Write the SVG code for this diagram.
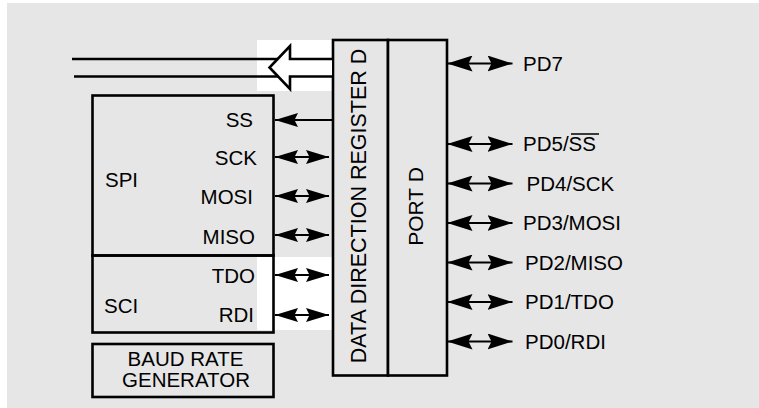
<svg xmlns="http://www.w3.org/2000/svg" width="759" height="408" viewBox="0 0 759 408">
<defs>
<style>
text{font-family:"Liberation Sans",Arial,Helvetica,sans-serif;font-size:20.5px;fill:#000}
.box{fill:#e6e6e6;stroke:#000;stroke-width:2.6}
.ln{stroke:#000;stroke-width:2.4;fill:none}
.sa{stroke:#000;stroke-width:2.2;fill:none;marker-start:url(#ahS)}
.da{stroke:#000;stroke-width:2.2;fill:none;marker-start:url(#ahS);marker-end:url(#ahS)}
.db{stroke:#000;stroke-width:2.2;fill:none;marker-start:url(#ahL);marker-end:url(#ahL)}
.end{text-anchor:end}
.mid{text-anchor:middle}
</style>
<marker id="ahS" viewBox="0 0 23 14" refX="23" refY="7" markerWidth="23" markerHeight="14" markerUnits="userSpaceOnUse" orient="auto-start-reverse"><path d="M0,0 L23,7 L0,14 L3.5,7 Z" fill="#000"/></marker>
<marker id="ahL" viewBox="0 0 25 16" refX="25" refY="8" markerWidth="25" markerHeight="16" markerUnits="userSpaceOnUse" orient="auto-start-reverse"><path d="M0,0 L25,8 L0,16 L4,8 Z" fill="#000"/></marker>
</defs>
<rect x="7" y="3" width="752" height="405" fill="#e6e6e6"/>
<rect x="257" y="40" width="78" height="51" fill="#fff"/>
<rect x="257" y="257" width="79" height="73" fill="#fff"/>

<g id="spi">
<rect class="box" x="92.5" y="95.5" width="181" height="160"/>
<text x="105" y="187">SPI</text>
<text class="end" x="253" y="127">SS</text>
<text class="end" x="257" y="165">SCK</text>
<text class="end" x="253" y="204">MOSI</text>
<text class="end" x="255" y="244">MISO</text>
</g>
<g id="sci">
<rect class="box" x="92.5" y="255.5" width="181" height="77" style="fill:none"/>
<text x="104" y="313">SCI</text>
<text class="end" x="255" y="283">TDO</text>
<text class="end" x="254" y="322">RDI</text>
</g>
<g id="baud">
<rect class="box" x="92.5" y="344" width="181" height="53"/>
<text class="mid" x="185.5" y="366">BAUD RATE</text>
<text class="mid" x="186" y="387">GENERATOR</text>
</g>
<g id="ddr">
<rect class="box" x="333" y="40" width="55" height="335.5"/>
<text class="mid" style="font-size:21.5px" transform="translate(365.5,206) rotate(-90)">DATA DIRECTION REGISTER D</text>
</g>
<g id="portd">
<rect class="box" x="388" y="40" width="59" height="335.5"/>
<text class="mid" style="font-size:21px" transform="translate(423,206.5) rotate(-90)">PORT D</text>
</g>

<g id="connectors">
<line class="ln" x1="72" y1="59" x2="291" y2="59"/>
<line class="ln" x1="74" y1="76.5" x2="291" y2="76.5"/>
<path d="M332,59 L290,59 L290,46 L269.5,67.5 L290,89 L290,76.5 L332,76.5" fill="#fff" stroke="#000" stroke-width="2.6" stroke-linejoin="miter"/>
<line class="sa" x1="275" y1="120" x2="333" y2="120"/>
<line class="da" x1="275" y1="157" x2="329" y2="157"/>
<line class="da" x1="275" y1="196" x2="329" y2="196"/>
<line class="da" x1="275" y1="235" x2="329" y2="235"/>
<line class="da" x1="275" y1="275" x2="329" y2="275"/>
<line class="da" x1="275" y1="315" x2="329" y2="315"/>
<line class="db" x1="447.5" y1="63.5" x2="512.5" y2="63.5"/>
<line class="db" x1="447.5" y1="144" x2="512.5" y2="144"/>
<line class="db" x1="447.5" y1="183.5" x2="512.5" y2="183.5"/>
<line class="db" x1="447.5" y1="223" x2="512.5" y2="223"/>
<line class="db" x1="447.5" y1="262.5" x2="512.5" y2="262.5"/>
<line class="db" x1="447.5" y1="302" x2="512.5" y2="302"/>
<line class="db" x1="447.5" y1="341.5" x2="512.5" y2="341.5"/>
</g>

<g id="labels">
<text x="523" y="70.5">PD7</text>
<text x="523" y="151">PD5/SS</text>
<line x1="571" y1="134" x2="599" y2="134" stroke="#000" stroke-width="1.5"/>
<text x="526.5" y="190.5">PD4/SCK</text>
<text x="523" y="230">PD3/MOSI</text>
<text x="525" y="269.5">PD2/MISO</text>
<text x="525" y="309">PD1/TDO</text>
<text x="525" y="348.5">PD0/RDI</text>
</g>
</svg>
